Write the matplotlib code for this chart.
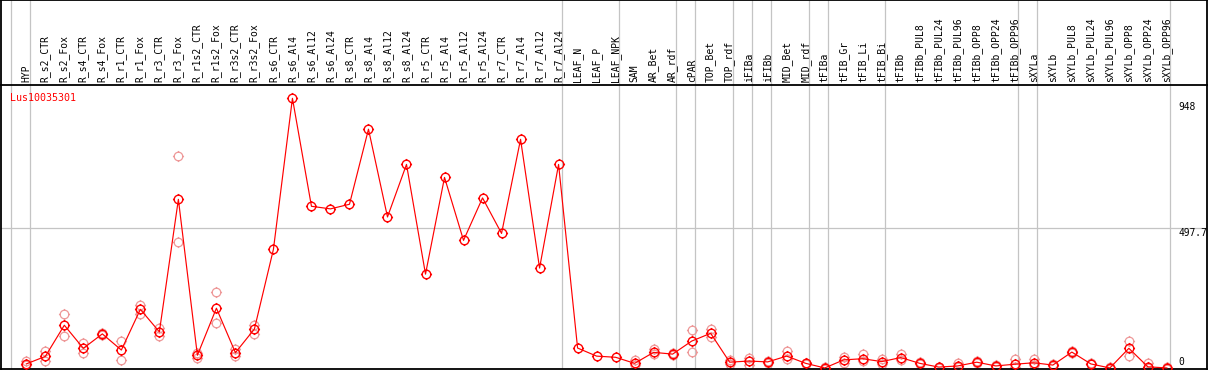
import numpy as np
import matplotlib
matplotlib.use("Agg")
import matplotlib.pyplot as plt
from matplotlib.path import Path
import matplotlib.transforms as mtrans

# ---------------- data ----------------
samples = ["HYP", "R_s2_CTR", "R_s2_Fox", "R_s4_CTR", "R_s4_Fox", "R_r1_CTR", "R_r1_Fox",
           "R_r3_CTR", "R_r3_Fox", "R_r1s2_CTR", "R_r1s2_Fox", "R_r3s2_CTR", "R_r3s2_Fox",
           "R_s6_CTR", "R_s6_Al4", "R_s6_Al12", "R_s6_Al24", "R_s8_CTR", "R_s8_Al4",
           "R_s8_Al12", "R_s8_Al24", "R_r5_CTR", "R_r5_Al4", "R_r5_Al12", "R_r5_Al24",
           "R_r7_CTR", "R_r7_Al4", "R_r7_Al12", "R_r7_Al24", "LEAF_N", "LEAF_P", "LEAF_NPK",
           "SAM", "AR_Bet", "AR_rdf", "cPAR", "TOP_Bet", "TOP_rdf", "iFIBa", "iFIBb",
           "MID_Bet", "MID_rdf", "tFIBa", "tFIB_Gr", "tFIB_Li", "tFIB_Bi", "tFIBb",
           "tFIBb_PUL8", "tFIBb_PUL24", "tFIBb_PUL96", "tFIBb_OPP8", "tFIBb_OPP24",
           "tFIBb_OPP96", "sXYLa", "sXYLb", "sXYLb_PUL8", "sXYLb_PUL24", "sXYLb_PUL96",
           "sXYLb_OPP8", "sXYLb_OPP24", "sXYLb_OPP96"]

mean_values = [28, 54, 162, 82, 132, 76, 217, 139, 598, 58, 221, 67, 149,
               425, 948, 574, 565, 581, 841, 537, 719, 339, 674, 456, 603,
               480, 806, 360, 719, 83, 55, 51,
               30, 68, 62, 107, 134, 34, 38, 35, 55, 30, 14, 42, 46, 36, 50,
               30, 17, 21, 34, 21, 27, 32, 24, 69, 28, 14, 82, 18, 14]

rep1_values = [39, 72, 201, 101, 134, 107, 232, 152, 747, 65, 276, 81, 164,
               np.nan, np.nan, np.nan, np.nan, np.nan, np.nan, np.nan, np.nan, np.nan,
               np.nan, np.nan, np.nan, np.nan, np.nan, np.nan, np.nan, np.nan, np.nan, np.nan,
               42, 80, 66, 144, 150, 42, 50, 38, 74, 32, 16, 53, 62, 44, 62,
               33, 19, 32, 37, 23, 46, 44, 26, 72, 30, 16, 107, 30, 16]

rep2_values = [25, 37, 124, 67, 128, 42, 200, 126, 449, 48, 170, 55, 133,
               np.nan, np.nan, np.nan, np.nan, np.nan, np.nan, np.nan, np.nan, np.nan,
               np.nan, np.nan, np.nan, np.nan, np.nan, np.nan, np.nan, np.nan, np.nan, np.nan,
               24, 62, 58, 69, 122, 27, 23, 32, 44, 28, 12, 32, 37, 27, 42,
               27, 15, 18, 31, 19, 18, 24, 22, 66, 26, 12, 56, 14, 12]

group_ends = [-1, 0, 28, 31, 34, 35, 37, 38, 39, 41, 42, 45, 52, 53, 60]
gene_id = "Lus10035301"
scale_labels = ["948", "497.7", "0"]
scale_values = [948, 497.7, 0]

# ---------------- figure ----------------
W, H = 1209, 370
fig = plt.figure(figsize=(W / 100, H / 100), dpi=100)

x_left_px, x_right_px = 1, 1207
plot_top_px, plot_bot_px = 85, 369

ax = fig.add_axes([x_left_px / W, (H - plot_bot_px) / H,
                   (x_right_px - x_left_px) / W, (plot_bot_px - plot_top_px) / H])
hax = fig.add_axes([x_left_px / W, (H - plot_top_px) / H,
                    (x_right_px - x_left_px) / W, plot_top_px / H - 0.001], sharex=ax)
hax.patch.set_visible(False)
hax.set_zorder(0)
ax.set_zorder(1)

x = np.arange(len(samples))
ax.set_xlim(-1.331, 62.11)
ax.set_ylim(10.4, 994.1)

mono = "DejaVu Sans Mono"

# custom marker: circle with 4 short outer ticks
circ = Path.unit_circle()
t = 1.3
ticks = Path([(0, 1), (0, t), (0, -1), (0, -t), (1, 0), (t, 0), (-1, 0), (-t, 0)],
             [Path.MOVETO, Path.LINETO] * 4)
mk = Path.make_compound_path(circ, ticks)

gray = "#C4C4C4"
for g in group_ends:
    ax.axvline(g + 0.184, color=gray, lw=0.9, zorder=1)
    hax.axvline(g + 0.184, color=gray, lw=0.9, zorder=1)
ax.axhline(scale_values[1], color=gray, lw=0.9, zorder=1)

msize = 8.0
ax.plot(x, rep1_values, linestyle="none", marker=mk, ms=msize, mfc="none",
        mec="#EE9999", mew=0.9, zorder=2)
ax.plot(x, rep2_values, linestyle="none", marker=mk, ms=msize, mfc="none",
        mec="#EE9999", mew=0.9, zorder=2)
ax.plot(x, mean_values, color="red", lw=0.85, marker=mk, ms=msize, mfc="none",
        mec="red", mew=1.0, zorder=3)

for s in ax.spines.values():
    s.set_linewidth(1.3)
for s in hax.spines.values():
    s.set_linewidth(1.3)
hax.spines["bottom"].set_visible(False)

hax.tick_params(axis="both", which="both", length=0, left=False, labelleft=False,
                bottom=False, labelbottom=False, top=False, labeltop=False)
hax.set_yticks([])
ax.tick_params(axis="y", length=0, left=False, labelleft=False)
ax.xaxis.set_ticks_position("top")
ax.set_xticks(x)
ax.set_xticklabels(samples, rotation=90, fontsize=7, family=mono, va="bottom", ha="center")
ax.tick_params(axis="x", top=True, labeltop=True, bottom=False, labelbottom=False,
               length=0, pad=2.2)

ax.text(0.0075, 0.955, gene_id, transform=ax.transAxes, color="red", fontsize=7.2,
        family=mono, ha="left", va="center")

# right side scale labels
offs_px = [8.4, 4.4, -10.3]
for lab, val, o in zip(scale_labels, scale_values, offs_px):
    tr = mtrans.blended_transform_factory(ax.transAxes, ax.transData)
    tr = tr + mtrans.ScaledTranslation(0, -o / 100, fig.dpi_scale_trans)
    ax.text(0.976, val, lab, transform=tr, fontsize=6.9, family=mono,
            ha="left", va="center", clip_on=False)

fig.savefig("out.png", dpi=100)
